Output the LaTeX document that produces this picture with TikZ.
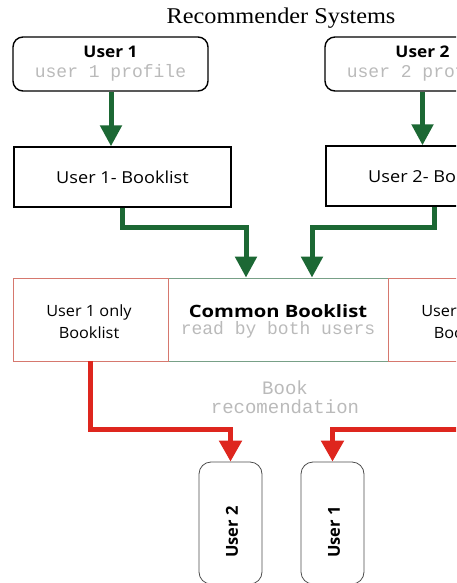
\documentclass[tikz,border=0pt]{standalone}
\usepackage{fontspec}
\setmainfont{Liberation Serif}
\setsansfont{Open Sans}
\setmonofont{Liberation Mono}
\usetikzlibrary{arrows.meta,calc}
\definecolor{flowgreen}{RGB}{28,104,52}
\definecolor{flowred}{RGB}{222,38,30}
\definecolor{cellred}{RGB}{214,120,110}
\definecolor{cellgreen}{RGB}{120,160,135}
\definecolor{softgray}{RGB}{186,186,186}
\tikzset{
  profilebox/.style={draw=black, line width=1.4pt, rounded corners=10pt, minimum width=195pt, minimum height=54pt, align=center, inner sep=0pt},
  listbox/.style={draw=black, line width=1.4pt, minimum width=217pt, minimum height=60pt, align=center, inner sep=0pt},
  sidecell/.style={draw=cellred, line width=0.8pt, minimum width=155pt, minimum height=83pt, align=center, inner sep=0pt},
  midcell/.style={draw=cellgreen, line width=0.8pt, minimum width=220pt, minimum height=83pt, align=center, inner sep=0pt},
  userbox/.style={draw=black!70, line width=0.8pt, rounded corners=12pt, minimum width=63pt, minimum height=122pt, inner sep=0pt},
  greenflow/.style={draw=flowgreen, line width=5pt, -{Triangle[width=21pt,length=21pt]}},
  redflow/.style={draw=flowred, line width=5pt, -{Triangle[width=22pt,length=21pt]}},
  bold/.style={font=\sffamily\bfseries\fontsize{16}{18}\selectfont, xscale=1.08},
  plain/.style={font=\sffamily\fontsize{16.5}{18}\selectfont, xscale=1.1},
  cellfont/.style={font=\sffamily\fontsize{15.5}{22}\selectfont, xscale=1.05},
  monotext/.style={font=\ttfamily\fontsize{18}{19}\selectfont, text=softgray}
}
\begin{document}
\begin{tikzpicture}[x=1pt,y=-1pt]
\useasboundingbox (0,0) rectangle (456,583);
\clip (0,0) rectangle (456,583);

% title
\node[font=\fontsize{22.5}{24}\selectfont, xscale=1.08] (title) at (281,18) {Recommender Systems};

% user profiles
\node[profilebox] (u1) at (110.5,64) {};
\node[bold] (u1name) at (110.5,52) {User 1};
\node[monotext] (u1prof) at (110.5,73) {user 1 profile};
\node[profilebox] (u2) at (422.5,64) {};
\node[bold] (u2name) at (422.5,52) {User 2};
\node[monotext] (u2prof) at (422.5,73) {user 2 profile};

% booklists
\node[listbox] (bl1) at (122.5,177) {};
\node[plain] (bl1name) at (bl1) {User 1- Booklist};
\node[listbox] (bl2) at (434.5,176) {};
\node[plain] (bl2name) at (bl2) {User 2- Booklist};

% split booklist row
\node[midcell] (common) at (278,319.5) {};
\node[bold, font=\sffamily\bfseries\fontsize{17}{18}\selectfont, xscale=1.1] (commontitle) at (278,311) {Common Booklist};
\node[monotext] (commonsub) at (278,330) {read by both users};
\node[sidecell] (only1) at (90.5,319.5) {};
\node[cellfont, align=center] (only1name) at (89,322) {User 1 only\\Booklist};
\node[sidecell] (only2) at (465.5,319.5) {};
\node[cellfont, align=center] (only2name) at (464,322) {User 2 only\\Booklist};

\node[monotext, font=\ttfamily\fontsize{19}{19}\selectfont, align=center] (rec) at (285,397) {Book\\recomendation};

% recommended users
\node[userbox] (b2) at (230.5,523) {};
\node[font=\sffamily\bfseries\fontsize{16.5}{18}\selectfont, rotate=90] (b2name) at (232,532) {User 2};
\node[userbox] (b1) at (332.5,523) {};
\node[font=\sffamily\bfseries\fontsize{16.5}{18}\selectfont, rotate=90] (b1name) at (334,532) {User 1};

% green flows
\draw[greenflow] (u1.south -| 111,0) -- (bl1.north -| 111,0);
\draw[greenflow] (u2.south) -- (u2.south |- bl2.north);
\coordinate (g1) at ($(common.north)+(-32,0)$);
\coordinate (g2) at ($(common.north)+(34,0)$);
\draw[greenflow] (bl1.south) -- ++(0,20) -| (g1);
\draw[greenflow] (bl2.south) -- ++(0,21) -| (g2);

% red flows
\draw[redflow] (only1.south) -- ++(0,68) -| (b2.north);
\draw[redflow] (only2.south) -- ++(0,68) -| (b1.north);
\end{tikzpicture}
\end{document}
